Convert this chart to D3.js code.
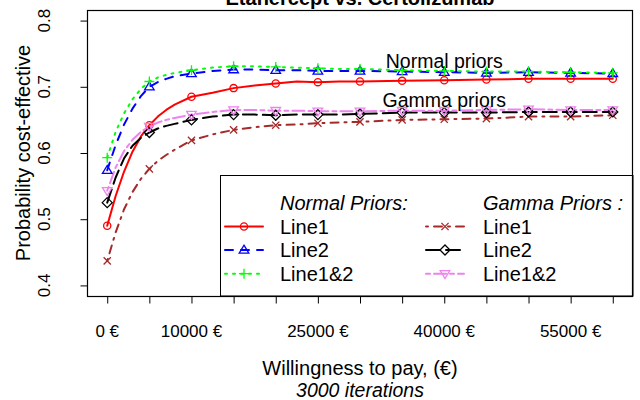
<!DOCTYPE html>
<html>
<head>
<meta charset="utf-8">
<script src="https://cdn.jsdelivr.net/npm/d3@7"></script>
<style>
  html, body { margin: 0; padding: 0; background: #fff; }
  svg { display: block; font-family: "Liberation Sans", Arial, sans-serif; }
</style>
</head>
<body>
<svg id="chart" width="640" height="400"></svg>
<script>
// ---- data ----
const wtp = [0,1000,2000,3000,4000,5000,6000,7000,8000,10000,12500,15000,17500,20000,22500,25000,27500,30000,35000,40000,45000,50000,55000,60000];
const normalLine1  = [0.490,0.535,0.572,0.602,0.625,0.642,0.655,0.665,0.673,0.685,0.691,0.698,0.702,0.705,0.708,0.707,0.708,0.708,0.709,0.710,0.711,0.712,0.712,0.712];
const normalLine2  = [0.574,0.612,0.643,0.667,0.686,0.700,0.707,0.712,0.716,0.720,0.724,0.726,0.726,0.725,0.725,0.724,0.724,0.724,0.723,0.722,0.721,0.722,0.721,0.720];
const normalLine12 = [0.593,0.632,0.660,0.681,0.697,0.708,0.714,0.718,0.721,0.725,0.729,0.731,0.731,0.730,0.729,0.728,0.727,0.727,0.725,0.724,0.723,0.723,0.722,0.721];
const gammaLine1   = [0.437,0.480,0.515,0.541,0.561,0.576,0.588,0.597,0.605,0.619,0.628,0.635,0.639,0.642,0.643,0.645,0.646,0.647,0.650,0.651,0.652,0.655,0.655,0.657];
const gammaLine2   = [0.525,0.563,0.592,0.611,0.623,0.631,0.637,0.641,0.644,0.650,0.655,0.658,0.658,0.657,0.658,0.658,0.658,0.659,0.661,0.661,0.661,0.662,0.662,0.662];
const gammaLine12  = [0.543,0.578,0.603,0.620,0.632,0.640,0.646,0.650,0.653,0.658,0.662,0.665,0.665,0.664,0.664,0.663,0.663,0.663,0.664,0.664,0.665,0.666,0.665,0.665];
const xTicks = [0,5000,10000,15000,20000,25000,30000,35000,40000,45000,50000,55000,60000];
const xTickLabels = [0,10000,25000,40000,55000];
const yTicks = [0.4,0.5,0.6,0.7,0.8];
const seriesNames = ["Line1","Line2","Line1&2"];
const legendTitles = ["Normal Priors:","Gamma Priors :"];
const annotations = [{text:"Normal priors", x:40000, y:0.728}, {text:"Gamma priors", x:40000, y:0.669}];
const titleText = "Etanercept vs. Certolizumab";

// ---- styles ----
const series = [
  {vals: normalLine1,  color:"#FF0000", dash:null,         shape:"circle",  group:0},
  {vals: normalLine2,  color:"#0000FF", dash:"8,8",        shape:"triUp",   group:0},
  {vals: normalLine12, color:"#00FF00", dash:"2,6",        shape:"plus",    group:0},
  {vals: gammaLine1,   color:"#A52A2A", dash:"2,6,8,6",    shape:"cross",   group:1},
  {vals: gammaLine2,   color:"#000000", dash:"14,6",       shape:"diamond", group:1},
  {vals: gammaLine12,  color:"#EE82EE", dash:"4,4,12,4",   shape:"triDown", group:1}
];

const svg = d3.select("#chart");
const L = 87, R = 633, T = 10, B = 296;
const x = d3.scaleLinear().domain([-2400, 62400]).range([L, R]);
const y = d3.scaleLinear().domain([0.384, 0.816]).range([B, T]);

function marker(g, shape, cx, cy, color) {
  const s = 4.2;
  let el;
  if (shape === "circle") {
    el = g.append("circle").attr("cx", cx).attr("cy", cy).attr("r", 3.6);
  } else if (shape === "triUp") {
    el = g.append("path").attr("d", `M${cx},${cy-s-0.6}L${cx+s+0.6},${cy+s*0.75}L${cx-s-0.6},${cy+s*0.75}Z`);
  } else if (shape === "triDown") {
    el = g.append("path").attr("d", `M${cx},${cy+s+0.6}L${cx+s+0.6},${cy-s*0.75}L${cx-s-0.6},${cy-s*0.75}Z`);
  } else if (shape === "plus") {
    el = g.append("path").attr("d", `M${cx-s-0.8},${cy}H${cx+s+0.8}M${cx},${cy-s-0.8}V${cy+s+0.8}`);
  } else if (shape === "cross") {
    el = g.append("path").attr("d", `M${cx-s+0.6},${cy-s+0.6}L${cx+s-0.6},${cy+s-0.6}M${cx-s+0.6},${cy+s-0.6}L${cx+s-0.6},${cy-s+0.6}`);
  } else if (shape === "diamond") {
    el = g.append("path").attr("d", `M${cx},${cy-s-0.8}L${cx+s+0.8},${cy}L${cx},${cy+s+0.8}L${cx-s-0.8},${cy}Z`);
  }
  el.attr("fill", "none").attr("stroke", color).attr("stroke-width", 1.3);
}

// title (partially clipped at top, as in reference)
svg.append("text").attr("x", (L + R) / 2).attr("y", 4.5).attr("text-anchor", "middle")
  .attr("font-weight", "bold").attr("font-size", 20).text(titleText);

// lines
const line = d3.line().x((d, i) => x(wtp[i])).y(d => y(d));
const plot = svg.append("g");
series.forEach(s => {
  plot.append("path").datum(s.vals).attr("d", line)
    .attr("fill", "none").attr("stroke", s.color).attr("stroke-width", 2)
    .attr("stroke-linecap", "round").attr("stroke-linejoin", "round")
    .attr("stroke-dasharray", s.dash);
});
series.forEach(s => {
  s.vals.forEach((v, i) => {
    if (wtp[i] % 5000 === 0) marker(plot, s.shape, x(wtp[i]), y(v), s.color);
  });
});

// annotations
annotations.forEach(a => {
  svg.append("text").attr("x", x(a.x)).attr("y", y(a.y)).attr("text-anchor", "middle")
    .attr("font-size", 19.5).text(a.text);
});

// legend
const lg = svg.append("g");
lg.append("rect").attr("x", 220.5).attr("y", 175.5).attr("width", R - 220.5).attr("height", B - 175.5)
  .attr("fill", "#fff").attr("stroke", "#000").attr("stroke-width", 1);
const colText = [280, 483], colLine = [225, 426], rowBase = [209.5, 233.5, 257, 280.7];
legendTitles.forEach((t, c) => {
  lg.append("text").attr("x", colText[c]).attr("y", rowBase[0]).attr("font-style", "italic")
    .attr("font-size", 20).text(t);
});
series.forEach((s, k) => {
  const c = s.group, r = k % 3;
  const yy = rowBase[r + 1] - 7;
  lg.append("line").attr("x1", colLine[c]).attr("x2", colLine[c] + 38).attr("y1", yy).attr("y2", yy)
    .attr("stroke", s.color).attr("stroke-width", 2).attr("stroke-linecap", "round")
    .attr("stroke-dasharray", s.dash);
  marker(lg, s.shape, colLine[c] + 19, yy, s.color);
  lg.append("text").attr("x", colText[c]).attr("y", rowBase[r + 1]).attr("font-size", 20).text(seriesNames[r]);
});

// box
svg.append("rect").attr("x", L + 0.5).attr("y", T + 0.5).attr("width", R - L - 1).attr("height", B - T)
  .attr("fill", "none").attr("stroke", "#000").attr("stroke-width", 1.2);

// x axis
const xa = svg.append("g").attr("transform", `translate(0,${B + 0.5})`)
  .call(d3.axisBottom(x).tickValues(xTicks).tickSize(7).tickPadding(0).tickFormat(""));
xa.select(".domain").remove();
xa.selectAll(".tick line").attr("stroke", "#000");
xTickLabels.forEach(v => {
  svg.append("text").attr("x", x(v)).attr("y", 337).attr("text-anchor", "middle")
    .attr("font-size", 17).text(v + " €");
});
svg.append("text").attr("x", (L + R) / 2).attr("y", 375).attr("text-anchor", "middle")
  .attr("font-size", 20).text("Willingness to pay, (€)");
svg.append("text").attr("x", (L + R) / 2).attr("y", 396.5).attr("text-anchor", "middle")
  .attr("font-size", 19.5).attr("font-style", "italic").text("3000 iterations");

// y axis
const ya = svg.append("g").attr("transform", `translate(${L + 0.5},0)`)
  .call(d3.axisLeft(y).tickValues(yTicks).tickSize(7).tickFormat(""));
ya.select(".domain").remove();
ya.selectAll(".tick line").attr("stroke", "#000");
yTicks.forEach(v => {
  svg.append("text").attr("transform", `translate(50,${y(v)}) rotate(-90)`)
    .attr("text-anchor", "middle").attr("font-size", 17).text(d3.format(".1f")(v));
});
svg.append("text").attr("transform", `translate(30,${(T + B) / 2}) rotate(-90)`)
  .attr("text-anchor", "middle").attr("font-size", 20).text("Probability cost-effective");
</script>
</body>
</html>
